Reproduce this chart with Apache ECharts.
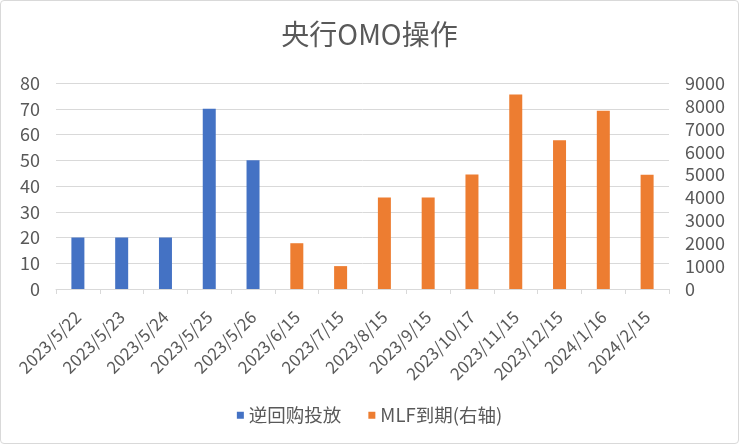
<!DOCTYPE html>
<html><head><meta charset="utf-8">
<script src="https://cdn.jsdelivr.net/npm/echarts@6/dist/echarts.min.js"></script>
<style>
html,body{margin:0;padding:0;background:#fff;}
#wrap{position:absolute;left:0;top:0;width:737px;height:442px;border:1px solid #d9d9d9;border-radius:4px;}
#c{width:737px;height:442px;}
</style></head>
<body><div id="wrap"><div id="c"></div></div>
<script>
const categories = ['2023/5/22','2023/5/23','2023/5/24','2023/5/25','2023/5/26','2023/6/15','2023/7/15','2023/8/15','2023/9/15','2023/10/17','2023/11/15','2023/12/15','2024/1/16','2024/2/15'];
const reverseRepo = [20,20,20,70,50,null,null,null,null,null,null,null,null,null];
const mlfMaturity = [null,null,null,null,null,2000,1000,4000,4000,5000,8500,6500,7790,4990];
const leftTicks = {min:0,max:80,interval:10};
const rightTicks = {min:0,max:9000,interval:1000};

const font = 'Noto Sans CJK SC';
const txt = '#595959';
const chart = echarts.init(document.getElementById('c'));
chart.setOption({
  animation:false,
  textStyle:{fontFamily:font},
  title:{text:'央行OMO操作',left:'center',top:14,textStyle:{fontFamily:font,fontSize:28,fontWeight:'normal',color:txt}},
  grid:{left:55,right:69,top:82,bottom:154},
  legend:{top:400,left:'center',itemWidth:7,itemHeight:7,itemGap:27,icon:'rect',
    textStyle:{fontFamily:font,fontSize:18.5,color:txt},
    data:['逆回购投放','MLF到期(右轴)']},
  xAxis:{type:'category',data:categories,
    axisLine:{lineStyle:{color:'#d9d9d9',width:1}},
    axisTick:{show:true,length:5,lineStyle:{color:'#d9d9d9'}},
    axisLabel:{rotate:45,interval:0,fontSize:17,color:txt,fontFamily:font,margin:25}},
  yAxis:[
    {type:'value',min:leftTicks.min,max:leftTicks.max,interval:leftTicks.interval,
     axisLine:{show:false},axisTick:{show:false},
     splitLine:{lineStyle:{color:'#d9d9d9',width:1}},
     axisLabel:{fontSize:18,color:txt,fontFamily:font,margin:16}},
    {type:'value',min:rightTicks.min,max:rightTicks.max,interval:rightTicks.interval,
     axisLine:{show:false},axisTick:{show:false},splitLine:{show:false},
     axisLabel:{fontSize:18,color:txt,fontFamily:font,margin:16,formatter:v=>String(v)}}
  ],
  series:[
    {name:'逆回购投放',type:'bar',yAxisIndex:0,data:reverseRepo,barWidth:13,barGap:'-100%',itemStyle:{color:'#4472c4'}},
    {name:'MLF到期(右轴)',type:'bar',yAxisIndex:1,data:mlfMaturity,barWidth:13,barGap:'-100%',itemStyle:{color:'#ed7d31'}}
  ]
});
</script></body></html>
